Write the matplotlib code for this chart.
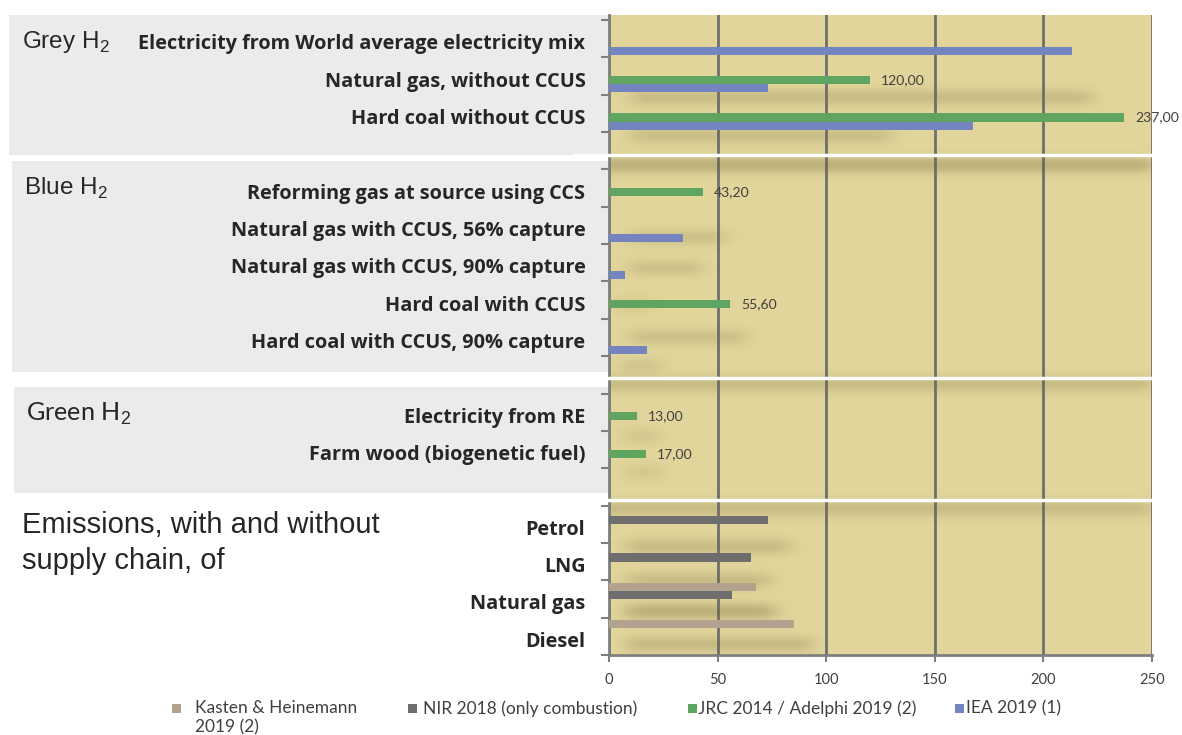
import matplotlib
matplotlib.use("Agg")
import matplotlib.pyplot as plt
import matplotlib.transforms as mtransforms
from matplotlib.patches import Rectangle
from matplotlib.lines import Line2D
import numpy as np

plt.rcParams['mathtext.fontset'] = 'custom'
plt.rcParams['mathtext.rm'] = 'Liberation Sans'

# rows from top to bottom, '' = spacer row between groups
categories = ['Electricity from World average electricity mix',
              'Natural gas, without CCUS',
              'Hard coal without CCUS',
              '',
              'Reforming gas at source using CCS',
              'Natural gas with CCUS, 56% capture',
              'Natural gas with CCUS, 90% capture',
              'Hard coal with CCUS',
              'Hard coal with CCUS, 90% capture',
              '',
              'Electricity from RE',
              'Farm wood (biogenetic fuel)',
              '',
              'Petrol',
              'LNG',
              'Natural gas',
              'Diesel']

series = ['Kasten & Heinemann\n2019 (2)', 'NIR 2018 (only combustion)',
          'JRC 2014 / Adelphi 2019 (2)', 'IEA 2019 (1)']
colors = ['#B3A28D', '#6E6E6E', '#5FA55F', '#7484C1']

nan = np.nan
kasten = [nan, nan, nan, nan, nan, nan, nan, nan, nan, nan, nan, nan, nan, nan, nan, 67.6, 85.4]
nir    = [nan, nan, nan, nan, nan, nan, nan, nan, nan, nan, nan, nan, nan, 73.1, 65.3, 56.4, nan]
jrc    = [nan, 120.0, 237.0, nan, 43.2, nan, nan, 55.6, nan, nan, 13.0, 17.0, nan, nan, nan, nan, nan]
iea    = [213.2, 73.1, 167.6, nan, nan, 34.1, 7.4, nan, 17.4, nan, nan, nan, nan, nan, nan, nan, nan]
values = [kasten, nir, jrc, iea]
labelled = ['JRC 2014 / Adelphi 2019 (2)']

groups = ['Grey H$_2$', 'Blue H$_2$', 'Green H$_2$', 'Emissions, with and without\nsupply chain, of']

W, H = 1182, 735
fig = plt.figure(figsize=(W / 100, H / 100), dpi=100)

# grey group panels (pixel boxes: x0, y0, x1, y1)
panels = [(9, 15, 625, 155), (12, 161, 609, 372), (14, 387, 609, 493)]
for x0, y0, x1, y1 in panels:
    fig.add_artist(Rectangle((x0 / W, 1 - y1 / H), (x1 - x0) / W, (y1 - y0) / H,
                             transform=fig.transFigure, facecolor='#EBEBEB',
                             edgecolor='none', zorder=-5))

ax = fig.add_axes([609 / W, 1 - 655 / H, (1152 - 609) / W, (655 - 15) / H])
ax.set_facecolor('#E1D59B')

y = np.arange(len(categories))
h = 0.22
offsets = [-1.5 * h, -0.5 * h, 0.5 * h, 1.5 * h]
for name, vals, col, off in zip(series, values, colors, offsets):
    vals = np.array(vals, dtype=float)
    ax.barh(y + off, vals, height=h, color=col, zorder=3)
    if name in labelled:
        for yy, v in zip(y + off, vals):
            if not np.isnan(v):
                ax.annotate(f'{v:.2f}'.replace('.', ','), (v, yy), xytext=(8, 0),
                            textcoords='offset points', va='center', ha='left',
                            fontsize=10.1, family='Lato', color='#404040', zorder=4,
                            annotation_clip=False)

# soft shadows smeared across the plot area
shadows = [(10, 222, 1.56, 0.5), (10, 130, 2.58, 0.45), (-10, 250, 3.38, 0.8),
           (10, 53, 5.31, 0.45), (10, 42, 6.14, 0.45), (5, 17, 7.13, 0.35),
           (10, 63, 7.99, 0.45), (5, 24, 8.76, 0.35), (-15, 250, 9.25, 0.55),
           (8, 22, 10.66, 0.3), (8, 24, 11.6, 0.3), (-15, 250, 12.59, 0.5),
           (8, 83, 13.61, 0.5), (8, 74, 14.52, 0.5), (8, 76, 15.35, 0.75),
           (8, 93, 16.23, 0.55)]
gx = np.linspace(-20, 255, 600)
gy = np.linspace(-0.634, 16.5, 640)
field = np.zeros((gy.size, gx.size))
for xa, xb, yc, s in shadows:
    mask = (gx[None, :] >= xa) & (gx[None, :] <= xb) & (np.abs(gy[:, None] - yc) < 0.14)
    field = np.maximum(field, mask * s)

def gauss(sig):
    k = np.arange(-3 * sig, 3 * sig + 1)
    g = np.exp(-0.5 * (k / sig) ** 2)
    return g / g.sum()

kx, ky = gauss(9), gauss(5)
field = np.apply_along_axis(lambda r: np.convolve(r, kx, mode='same'), 1, field)
field = np.apply_along_axis(lambda c: np.convolve(c, ky, mode='same'), 0, field)
rgba = np.zeros(field.shape + (4,))
rgba[..., 0], rgba[..., 1], rgba[..., 2] = 0.45, 0.40, 0.22
rgba[..., 3] = np.clip(field, 0, 1) * 0.58
ax.imshow(rgba, extent=(gx[0], gx[-1], gy[-1], gy[0]), aspect='auto',
          interpolation='bilinear', zorder=1)
ax.set_xlim(0, 250)
ax.set_ylim(16.5, -0.634)

ax.set_xticks(np.arange(0, 251, 50))
ax.tick_params(axis='x', length=5, width=1.5, color='#7F7F7F', labelsize=10.5,
               labelcolor='#404040', pad=8)
for lab in ax.get_xticklabels():
    lab.set_family('Lato')
ax.set_yticks(y, categories)
ax.tick_params(axis='y', which='major', length=0, pad=17)
shift = mtransforms.ScaledTranslation(0, -3 / 100, fig.dpi_scale_trans)
for lab in ax.get_yticklabels():
    lab.set_family('Open Sans')
    lab.set_weight('bold')
    lab.set_fontsize(14.3)
    lab.set_color('#262626')
    lab.set_transform(lab.get_transform() + shift)
ax.set_yticks(np.arange(-0.5, 17, 1), minor=True)
ax.tick_params(axis='y', which='minor', length=6, width=1.5, color='#7F7F7F')

ax.grid(axis='x', color='#6F6F6F', linewidth=2, zorder=2)
ax.set_axisbelow(True)
for side in ['top', 'right']:
    ax.spines[side].set_visible(False)
for side in ['left', 'bottom']:
    ax.spines[side].set_color('#7F7F7F')
    ax.spines[side].set_linewidth(2)

# white dividers between groups
for ypx in [155, 378, 500]:
    fig.add_artist(Line2D([575 / W, 1155 / W], [1 - ypx / H, 1 - ypx / H],
                          transform=fig.transFigure, color='white', lw=2.5, zorder=5))

# group titles
group_pos = [(22, 42), (24, 188), (26, 414), (22, 543)]
group_font = ['Liberation Sans', 'Liberation Sans', 'Lato', 'Liberation Sans']
group_size = [17.5, 17.5, 18.2, 21]
for g, (gxp, gyp), fam, fs in zip(groups, group_pos, group_font, group_size):
    fig.text(gxp / W, 1 - gyp / H, g, fontsize=fs, family=fam, color='#262626',
             va='center', ha='left', linespacing=1.32)

# legend
leg_sq = [172, 408, 688, 955]
leg_tx = [195, 423, 698, 966]
for name, col, sx, tx in zip(series, colors, leg_sq, leg_tx):
    fig.add_artist(Rectangle((sx / W, 1 - 713 / H), 9 / W, 9 / H, transform=fig.transFigure,
                             facecolor=col, edgecolor='none'))
    fig.text(tx / W, 1 - 700 / H, name, fontsize=12.5, family='Lato', color='#404040',
             va='top', ha='left', linespacing=1.22)

fig.savefig('out.png', dpi=100)
